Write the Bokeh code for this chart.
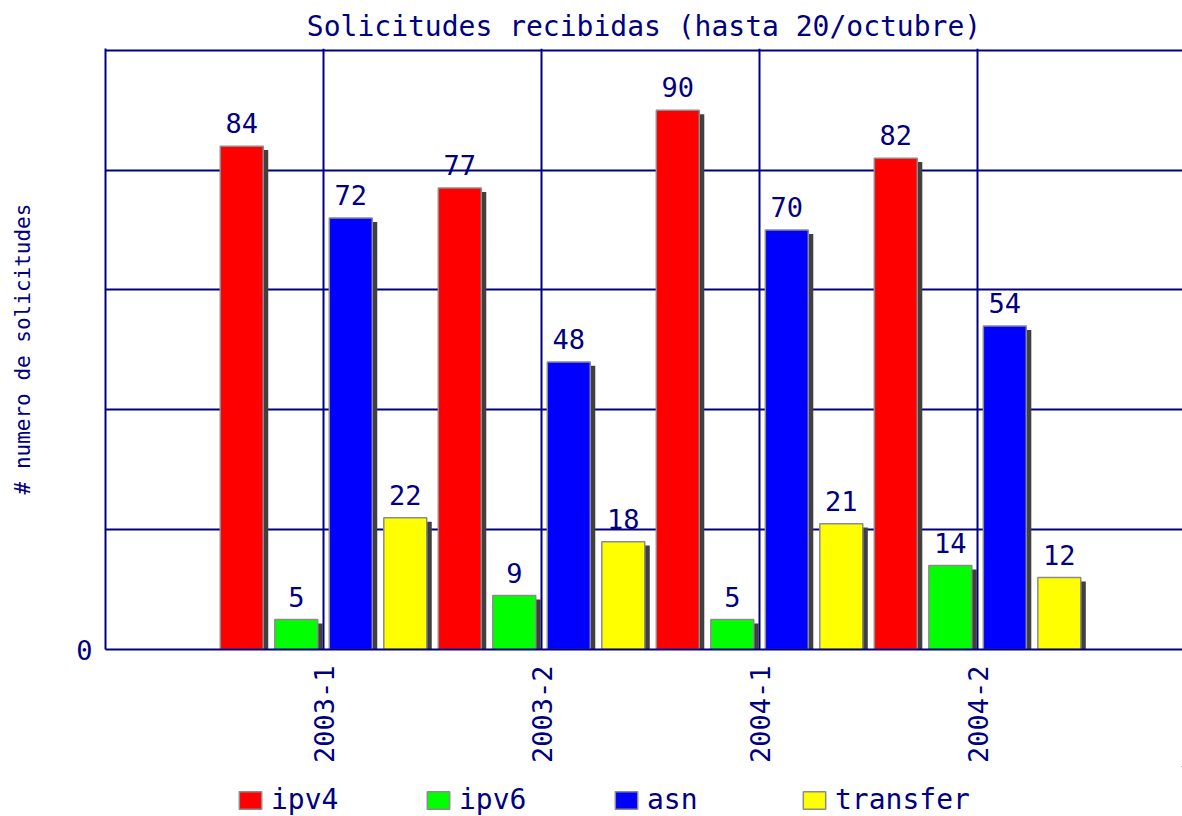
import math
from bokeh.plotting import figure
from bokeh.layouts import column
from bokeh.models import ColumnDataSource, FixedTicker, Legend, LegendItem, Range1d
from bokeh.core.properties import value
from bokeh.embed import file_html
from bokeh.resources import INLINE

# ---- data ----
periods = ["2003-1", "2003-2", "2004-1", "2004-2"]
series = ["ipv4", "ipv6", "asn", "transfer"]
ipv4 = [84, 77, 90, 82]
ipv6 = [5, 9, 5, 14]
asn = [72, 48, 70, 54]
transfer = [22, 18, 21, 12]
values_by_series = [ipv4, ipv6, asn, transfer]
colors = ["#ff0000", "#00ff00", "#0000ff", "#ffff00"]

NAVY = "#000080"
FONT = "DejaVu Sans Mono"
positions = list(range(1, len(periods) + 1))
offsets = [-0.375, -0.125, 0.125, 0.375]
bar_w = 0.197
shadow_dx = 0.023
shadow_dy = 0.66

p = figure(width=1182, height=766, output_backend="svg", toolbar_location=None,
           x_range=Range1d(0, 4.94), y_range=Range1d(0, 100.3),
           title="Solicitudes recibidas (hasta 20/octubre)",
           min_border_left=105, min_border_right=0, min_border_top=48, min_border_bottom=111)
p.outline_line_color = None
p.background_fill_color = "white"
p.border_fill_color = "white"

p.title.text_font = FONT
p.title.text_font_size = "28px"
p.title.text_font_style = "normal"
p.title.text_color = NAVY
p.title.align = "center"
p.title.standoff = 12

for name, vals, col, off in zip(series, values_by_series, colors, offsets):
    xs = [q + off for q in positions]
    src = ColumnDataSource(dict(x=xs, top=vals, xs=[x + shadow_dx for x in xs],
                                ts=[v - shadow_dy for v in vals],
                                label=[str(v) for v in vals]))
    p.vbar(x="xs", top="ts", bottom=0, width=bar_w, source=src,
           fill_color="#404040", line_color=None)
    p.vbar(x="x", top="top", bottom=0, width=bar_w, source=src,
           fill_color=col, line_color="#8c8c8c", line_width=1.5)
    p.text(x="x", y="top", text="label", source=src, y_offset=-13,
           text_align="center", text_baseline="bottom",
           text_font=value(FONT), text_font_size="27px", text_color=NAVY)

# axes
p.xaxis.ticker = FixedTicker(ticks=positions)
p.xaxis.major_label_overrides = {q: lab for q, lab in zip(positions, periods)}
p.xaxis.major_label_orientation = math.pi / 2
p.xaxis.major_label_standoff = 10
p.xaxis.major_tick_line_color = None
p.xaxis.minor_tick_line_color = None
p.xaxis.axis_line_color = NAVY
p.xaxis.axis_line_width = 2
p.xaxis.major_label_text_font = FONT
p.xaxis.major_label_text_font_size = "27px"
p.xaxis.major_label_text_color = NAVY

yticks = [0, 20, 40, 60, 80, 100]
p.yaxis.ticker = FixedTicker(ticks=yticks)
p.yaxis.major_label_overrides = {t: ("0" if t == 0 else "") for t in yticks}
p.yaxis.major_tick_line_color = None
p.yaxis.minor_tick_line_color = None
p.yaxis.axis_line_color = NAVY
p.yaxis.axis_line_width = 2
p.yaxis.major_label_text_font = FONT
p.yaxis.major_label_text_font_size = "27px"
p.yaxis.major_label_text_color = NAVY
p.yaxis.major_label_standoff = 7
p.yaxis.axis_label = "# numero de solicitudes"
p.yaxis.axis_label_text_font = FONT
p.yaxis.axis_label_text_font_size = "21px"
p.yaxis.axis_label_text_font_style = "normal"
p.yaxis.axis_label_text_color = NAVY
p.yaxis.axis_label_standoff = 38

p.xgrid.grid_line_color = NAVY
p.xgrid.grid_line_width = 2
p.ygrid.grid_line_color = NAVY
p.ygrid.grid_line_width = 2

# ---- legend strip (separate small figure below the chart) ----
lg = figure(width=1182, height=50, output_backend="svg", toolbar_location=None,
            x_range=Range1d(-100, -90), y_range=Range1d(-200, -100),
            min_border=0, x_axis_type=None, y_axis_type=None)
lg.outline_line_color = None
lg.grid.visible = False
items = []
for name, vals, col, off in zip(series, values_by_series, colors, offsets):
    # bars lie outside the strip's visible range; they only feed the legend swatches
    r = lg.vbar(x=[q + off for q in positions], top=vals, bottom=0, width=bar_w,
                fill_color=col, line_color="#8c8c8c", line_width=1.5)
    items.append(LegendItem(label=name, renderers=[r]))

legend = Legend(items=items, orientation="horizontal", location=(131, 0),
                glyph_width=28, glyph_height=22, label_standoff=7, label_width=130,
                spacing=23, padding=0, margin=0,
                label_text_font=FONT, label_text_font_size="28px", label_text_color=NAVY,
                border_line_color=None, background_fill_alpha=0)
lg.add_layout(legend, "center")

layout = column(p, lg, spacing=0)
open("out.html", "w").write(file_html(layout, INLINE))
